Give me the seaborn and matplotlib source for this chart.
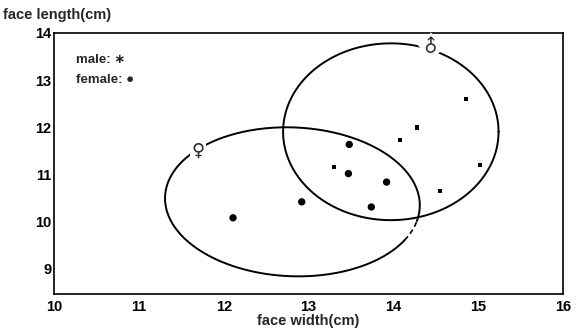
import numpy as np
import pandas as pd
import seaborn as sns
import matplotlib.pyplot as plt

male_width = [13.30, 14.08, 14.28, 14.55, 14.86, 15.02]
male_length = [11.15, 11.73, 11.99, 10.64, 12.59, 11.20]
female_width = [12.11, 12.92, 13.48, 13.47, 13.74, 13.92]
female_length = [10.07, 10.41, 11.63, 11.01, 10.30, 10.83]

# group ellipses: centre x, centre y, half width, half height, shear of top point
male_ellipse = [13.97, 11.90, 1.27, 1.88, 0.0]
female_ellipse = [12.81, 10.41, 1.50, 1.585, -0.07]

x_ticks = [10, 11, 12, 13, 14, 15, 16]
y_ticks = [9, 10, 11, 12, 13, 14]


def ellipse_xy(params, t):
    cx, cy, a, b, s = params
    return cx + a * np.cos(t) + s * np.sin(t), cy + b * np.sin(t)


sns.set_theme(style="white")
plt.rcParams["font.family"] = ["Liberation Sans Narrow", "Liberation Sans", "DejaVu Sans"]
plt.rcParams["font.weight"] = "bold"

faces = pd.concat([
    pd.DataFrame({"width": male_width, "length": male_length, "sex": "male"}),
    pd.DataFrame({"width": female_width, "length": female_length, "sex": "female"}),
])

fig = plt.figure(figsize=(5.76, 3.29), dpi=100)
ax = fig.add_axes([0.0938, 0.1064, 0.8837, 0.7933])

sns.scatterplot(data=faces[faces["sex"] == "male"], x="width", y="length",
                marker="s", s=9, color="black", edgecolor="none", ax=ax, legend=False)
sns.scatterplot(data=faces[faces["sex"] == "female"], x="width", y="length",
                marker="o", s=28, color="black", edgecolor="none", ax=ax, legend=False)

# ellipses (female one has a broken stretch at the lower right)
t = np.linspace(0, 2 * np.pi, 400)
ax.plot(*ellipse_xy(male_ellipse, t), color="black", lw=1.4, zorder=2)
t_solid = np.linspace(-0.26, 2 * np.pi - 0.54, 400)
t_dash = np.linspace(-0.54, -0.26, 40)
ax.plot(*ellipse_xy(female_ellipse, t_solid), color="black", lw=1.4, zorder=2)
ax.plot(*ellipse_xy(female_ellipse, t_dash), color="black", lw=1.2,
        linestyle=(0, (3, 2)), zorder=2)

# sex symbols sitting on the ellipses
ax.text(14.45, 13.72, "\u2642", rotation=45, ha="center", va="center", fontsize=13,
        fontweight="normal", family=["DejaVu Sans"], zorder=5,
        bbox=dict(facecolor="white", edgecolor="none", pad=0.8))
ax.text(11.70, 11.49, "\u2640", ha="center", va="center", fontsize=13,
        fontweight="normal", family=["DejaVu Sans"], zorder=5,
        bbox=dict(facecolor="white", edgecolor="none", pad=1.2))

# key in the top-left corner
ax.text(10.26, 13.43, "male: \u2217", ha="left", va="center", fontsize=9.5)
ax.text(10.26, 13.0, "female: \u25cf", ha="left", va="center", fontsize=9.5)

ax.set_xlim(10, 16)
ax.set_ylim(8.45, 14)
ax.set_xticks(x_ticks)
ax.set_yticks(y_ticks)
ax.tick_params(axis="both", length=0, labelsize=10.5, colors="black")
ax.tick_params(axis="x", pad=4)
ax.tick_params(axis="y", pad=2)
for lab in ax.get_xticklabels() + ax.get_yticklabels():
    lab.set_fontweight("bold")

ax.set_xlabel("face width(cm)", fontsize=10.5, fontweight="bold", labelpad=0)
ax.set_ylabel("")
fig.text(0.005, 0.955, "face length(cm)", ha="left", va="center",
         fontsize=10.5, fontweight="bold")

for side in ["top", "right", "left", "bottom"]:
    ax.spines[side].set_visible(True)
    ax.spines[side].set_color("black")
    ax.spines[side].set_linewidth(1.2)

fig.savefig("out.png", dpi=100)
